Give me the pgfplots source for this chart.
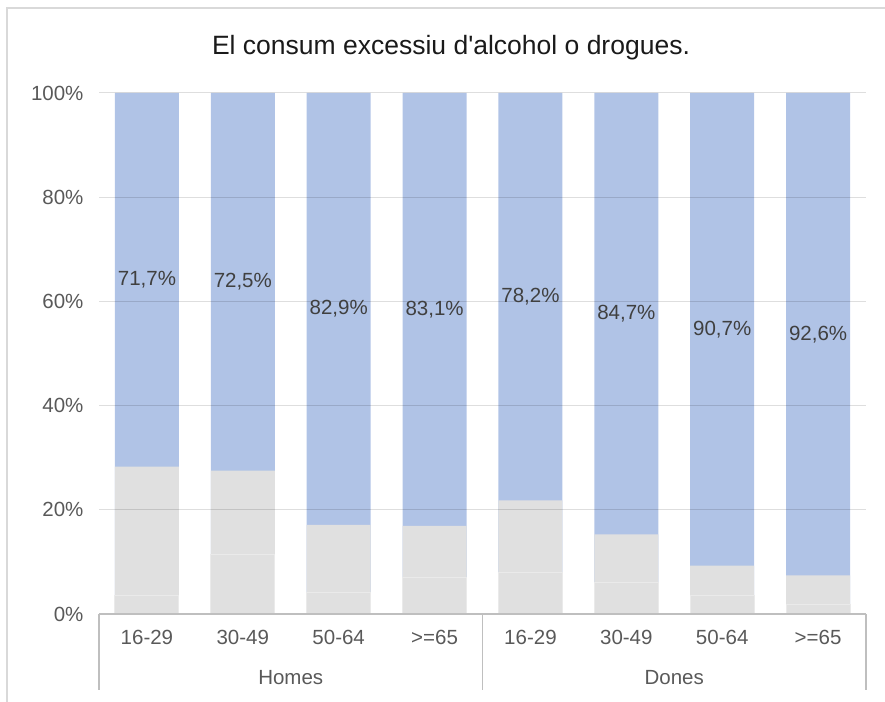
\documentclass[border=0pt]{standalone}
\usepackage{pgfplots}
\usepackage{pgfplotstable}
\pgfplotsset{compat=1.18}
\usepackage{fontspec}
\setmainfont{Liberation Sans}
\definecolor{barblue}{HTML}{B0C3E6}
\definecolor{bargrey}{HTML}{E0E0E0}
\definecolor{segline}{HTML}{EAEAEA}
\definecolor{axisc}{HTML}{BFBFBF}
\definecolor{framec}{HTML}{D9D9D9}
\definecolor{tickc}{HTML}{595959}
\definecolor{labc}{HTML}{404040}
\definecolor{titlec}{HTML}{1A1A1A}

\pgfplotstableread{
x blue greytop greylow center label
0 100 28.3 3.5  64.15 71,7
1 100 27.5 11.5 63.75 72,5
2 100 17.1 4.2  58.55 82,9
3 100 16.9 7.1  58.45 83,1
4 100 21.8 7.9  60.90 78,2
5 100 15.3 6.1  57.65 84,7
6 100 9.3  3.5  54.65 90,7
7 100 7.4  1.9  53.70 92,6
}\datatable

\begin{document}
\begin{tikzpicture}[x=1bp,y=1bp]
\useasboundingbox (0,0) rectangle (885,702);
\draw[framec, line width=1.2bp] (7,0) -- (7,694) -- (885,694);
\node[font=\fontsize{26.5bp}{30bp}\selectfont, text=titlec] at (451,654) {El consum excessiu d\textquotesingle alcohol o drogues.};
\begin{axis}[
  at={(99bp,88bp)}, anchor=south west,
  scale only axis, width=767bp, height=521bp,
  xmin=-0.5, xmax=7.5, ymin=0, ymax=100,
  clip=false,
  axis on top,
  axis x line*=bottom, axis y line*=left,
  y axis line style={draw=none},
  x axis line style={axisc, line width=1.3bp, -},
  ymajorgrids,
  major grid style={draw=black, draw opacity=0.13, line width=1bp},
  major tick length=0pt,
  ytick={0,20,40,60,80,100},
  yticklabels={0\%,20\%,40\%,60\%,80\%,100\%},
  xtick={0,1,2,3,4,5,6,7},
  xticklabels={16-29,30-49,50-64,>=65,16-29,30-49,50-64,>=65},
  tick label style={font=\fontsize{20.5bp}{24bp}\selectfont, text=tickc},
  yticklabel style={xshift=-12bp},
  xticklabel style={yshift=-13bp},
]
\addplot[ybar, bar width=64bp, bar shift=0pt, fill=barblue, draw=none] table[x=x, y=blue]{\datatable};
\addplot[ybar, bar width=64bp, bar shift=0pt, fill=bargrey, draw=none] table[x=x, y=greytop]{\datatable};
\addplot[ybar, bar width=64bp, bar shift=0pt, fill=bargrey, draw=segline, line width=1bp] table[x=x, y=greylow]{\datatable};
\addplot[draw=none, mark=none, point meta=explicit symbolic,
  nodes near coords={\pgfplotspointmeta\%},
  every node near coord/.append style={anchor=center, text=labc, font=\fontsize{20.5bp}{24bp}\selectfont}]
  table[x=x, y=center, meta=label]{\datatable};
\draw[axisc, line width=1.3bp] (axis cs:-0.5,0) -- ([yshift=-76bp]axis cs:-0.5,0);
\draw[axisc, line width=1.3bp] (axis cs:3.5,0) -- ([yshift=-76bp]axis cs:3.5,0);
\draw[axisc, line width=1.3bp] (axis cs:7.5,0) -- ([yshift=-76bp]axis cs:7.5,0);
\node[font=\fontsize{20.5bp}{24bp}\selectfont, text=tickc] at ([yshift=-64bp]axis cs:1.5,0) {Homes};
\node[font=\fontsize{20.5bp}{24bp}\selectfont, text=tickc] at ([yshift=-64bp]axis cs:5.5,0) {Dones};
\end{axis}
\end{tikzpicture}
\end{document}
